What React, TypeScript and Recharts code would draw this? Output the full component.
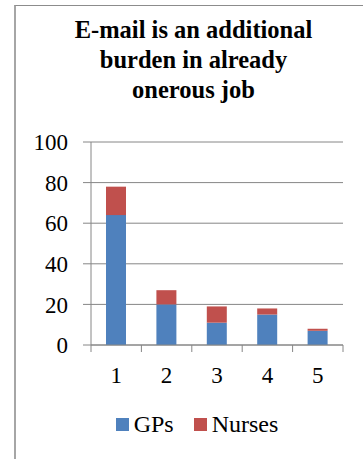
import React from 'react';
import { BarChart, Bar, XAxis, YAxis, CartesianGrid, Legend } from 'recharts';

const categories = ['1', '2', '3', '4', '5'];
const gps = [64, 20, 11, 15, 7];
const nurses = [14, 7, 8, 3, 1];
const yTicks = [0, 20, 40, 60, 80, 100];

const data = categories.map((c, i) => ({ name: c, GPs: gps[i], Nurses: nurses[i] }));

const FONT = '"Liberation Serif", "Times New Roman", serif';
const AXIS = '#868686';

// category labels with tick marks drawn at the band edges instead of the centre
const EdgeTick = (props: any) => {
  const { x, y, payload, index, visibleTicksCount, width } = props;
  const half = payload.offset ?? width / visibleTicksCount / 2;
  const axisY = y - 22;
  return (
    <g>
      <line x1={x - half} x2={x - half} y1={axisY} y2={axisY + 7} stroke={AXIS} />
      {index === visibleTicksCount - 1 && (
        <line x1={x + half} x2={x + half} y1={axisY} y2={axisY + 7} stroke={AXIS} />
      )}
      <text x={x} y={y} dy="0.71em" textAnchor="middle" fill="#000" fontSize={23} style={{ fontFamily: FONT }}>
        {payload.value}
      </text>
    </g>
  );
};

const LegendContent = () => (
  <div style={{ display: 'flex', justifyContent: 'center', alignItems: 'center', fontFamily: FONT, fontSize: 24 }}>
    {[
      ['GPs', '#4F81BD'],
      ['Nurses', '#C0504D'],
    ].map(([label, color], i) => (
      <span key={label} style={{ display: 'flex', alignItems: 'center', marginLeft: i ? 20 : 0 }}>
        <span style={{ width: 13, height: 13, background: color, marginRight: 5 }} />
        {label}
      </span>
    ))}
  </div>
);

export default function App() {
  return (
    <div style={{ position: 'absolute', left: 0, top: 0, width: 363, height: 459, background: '#fff', fontFamily: FONT }}>
      <div
        style={{
          position: 'absolute',
          left: 14,
          top: 5,
          width: 349,
          height: 454,
          borderLeft: '2px solid #a6a6a6',
          borderTop: '1px solid #8c8c8c',
        }}
      />
      <div
        style={{
          position: 'absolute',
          left: 16,
          width: 355,
          top: 15,
          textAlign: 'center',
          fontFamily: FONT,
          fontWeight: 'bold',
          fontSize: 24.5,
          lineHeight: '30px',
        }}
      >
        E-mail is an additional
        <br />
        burden in already
        <br />
        onerous job
      </div>
      <BarChart
        width={363}
        height={459}
        data={data}
        margin={{ top: 142, right: 20, bottom: 0, left: 0 }}
        style={{ position: 'absolute', left: 0, top: 0, fontFamily: FONT }}
      >
        <CartesianGrid vertical={false} stroke={AXIS} strokeWidth={1} />
        <XAxis
          dataKey="name"
          height={114}
          axisLine={{ stroke: AXIS }}
          tickLine={false}
          tickSize={7}
          tickMargin={15}
          tick={<EdgeTick />}
          interval={0}
        />
        <YAxis
          width={91}
          domain={[0, 100]}
          ticks={yTicks}
          axisLine={{ stroke: AXIS }}
          tickLine={{ stroke: AXIS }}
          tickSize={8}
          tickMargin={15}
          tick={{ fill: '#000', fontSize: 23, style: { fontFamily: FONT } }}
        />
        <Legend
          layout="horizontal"
          verticalAlign="middle"
          align="center"
          content={<LegendContent />}
          wrapperStyle={{ top: 411, left: 30, width: 334 }}
        />
        <Bar dataKey="GPs" stackId="a" fill="#4F81BD" barSize={20} isAnimationActive={false} />
        <Bar dataKey="Nurses" stackId="a" fill="#C0504D" barSize={20} isAnimationActive={false} />
      </BarChart>
    </div>
  );
}
